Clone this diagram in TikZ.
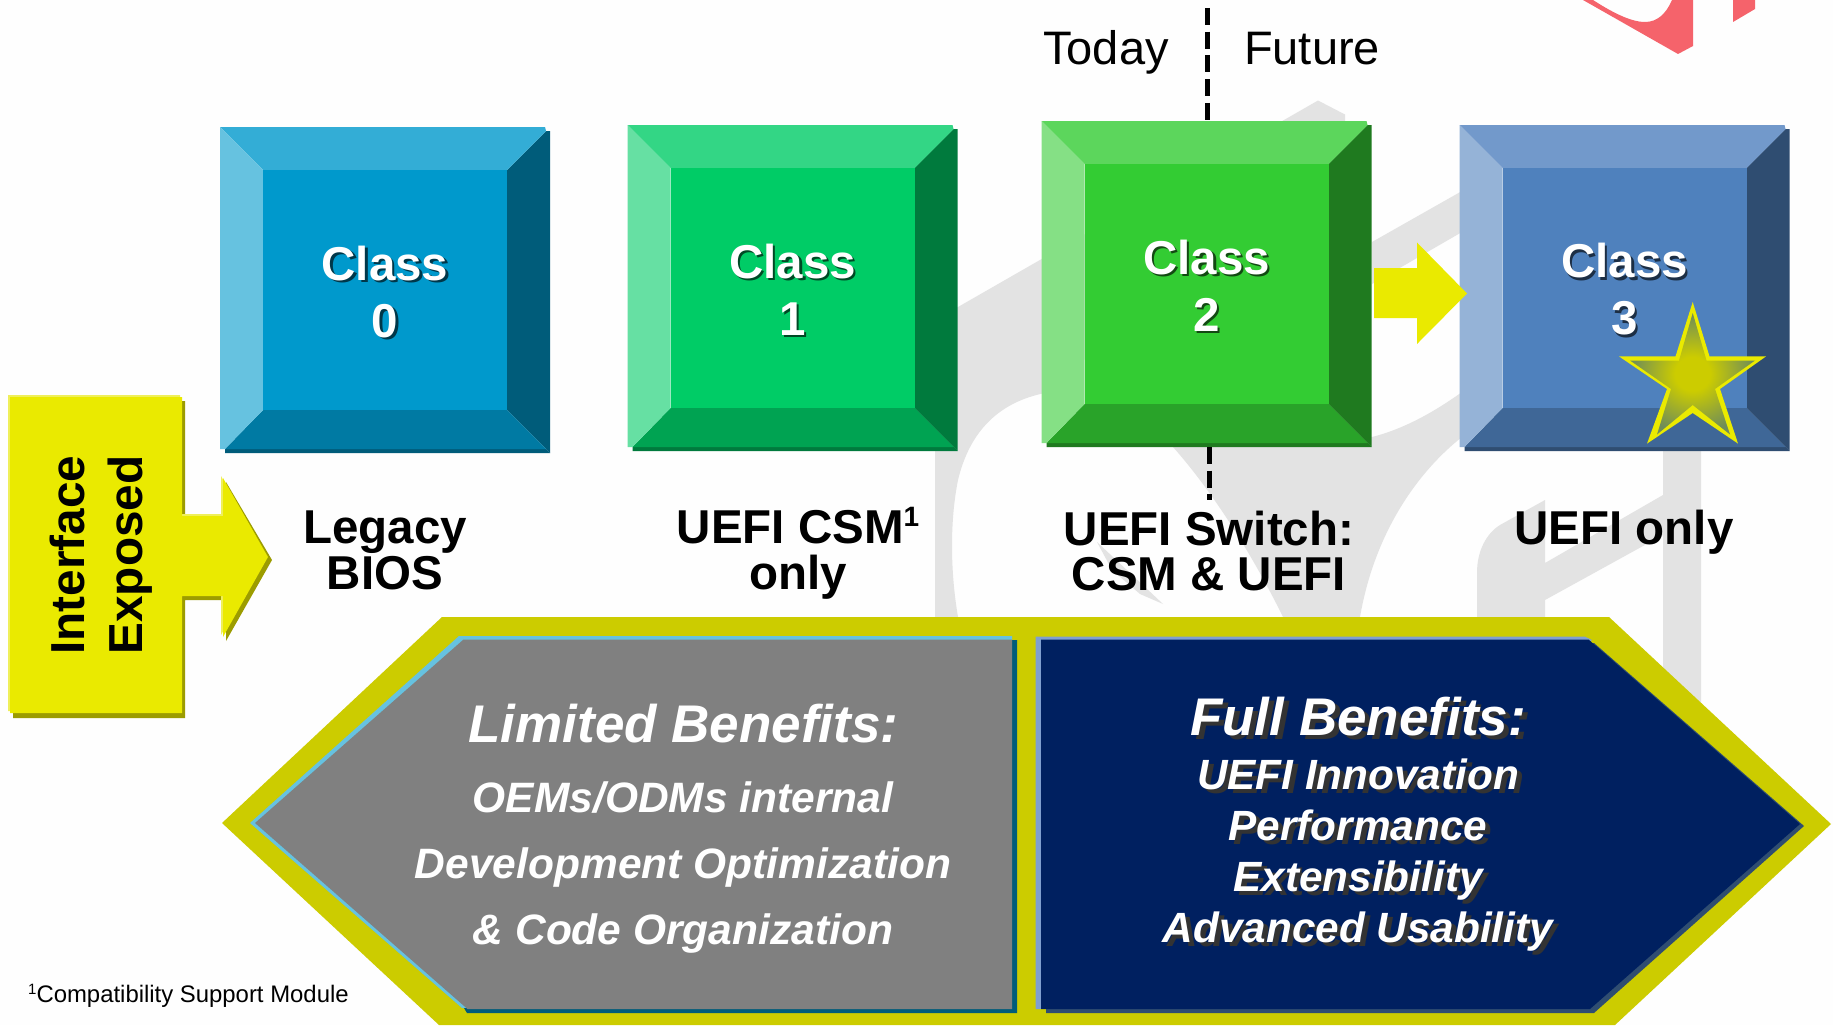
\documentclass[tikz,border=0pt]{standalone}
\usepackage{fontspec}
\setmainfont{Liberation Sans}
\definecolor{paper}{HTML}{FEFEFE}
\definecolor{wmgray}{HTML}{E3E3E3}
\definecolor{wmpink}{HTML}{F5636B}
\definecolor{yel}{HTML}{EAEA00}
\definecolor{yelLight}{HTML}{EFEF5A}
\definecolor{yelDark}{HTML}{9C9C00}
\definecolor{olive}{HTML}{CCCC00}
\definecolor{edgeCyan}{HTML}{66C2E0}
\definecolor{edgeTeal}{HTML}{005C7A}
\definecolor{panelGray}{HTML}{808080}
\definecolor{navy}{HTML}{002060}
\definecolor{navyEdge}{HTML}{809FCF}
\definecolor{navyShade}{HTML}{2F4D71}
\definecolor{textShade}{HTML}{333333}
\definecolor{starc}{HTML}{CCCC00}
\definecolor{staro}{HTML}{6E8C5A}
\definecolor{aF}{HTML}{0099CC}\definecolor{aT}{HTML}{33ADD6}\definecolor{aL}{HTML}{66C2E0}\definecolor{aR}{HTML}{005C7A}\definecolor{aB}{HTML}{007AA3}
\definecolor{bF}{HTML}{00CC66}\definecolor{bT}{HTML}{33D685}\definecolor{bL}{HTML}{66E0A3}\definecolor{bR}{HTML}{007A3D}\definecolor{bB}{HTML}{00A352}
\definecolor{cF}{HTML}{33CC33}\definecolor{cT}{HTML}{5CD65C}\definecolor{cL}{HTML}{85E085}\definecolor{cR}{HTML}{1F7A1F}\definecolor{cB}{HTML}{29A329}
\definecolor{dF}{HTML}{4F81BD}\definecolor{dT}{HTML}{7299CB}\definecolor{dL}{HTML}{95B3D7}\definecolor{dR}{HTML}{2F4D71}\definecolor{dB}{HTML}{3F6797}
\pgfdeclareradialshading{starglow}{\pgfpoint{0bp}{0bp}}{color(0bp)=(starc); color(7bp)=(starc); color(25bp)=(staro); color(50bp)=(staro)}
\newcommand\fsz[2]{\fontsize{#1}{#2}\selectfont}
% text with a small drop shadow: colour, dx, dy, text
\newcommand\shd[4]{\leavevmode\rlap{\kern#2pt\raisebox{-#3pt}{\color{#1}#4}}#4}
% bevelled class box: name, left, top, palette, shadow colour, digit
\newcommand\bevelbox[6]{%
  \begin{scope}[shift={(#2,#3)}]
    \fill[#4R] (287,43) -- (326,4) -- (330,4) -- (330,326) -- (287,283) -- cycle;
    \fill[#4R] (5,322) -- (326,322) -- (330,326) -- (5,326) -- cycle;
    \fill[#4B] (43,283) -- (287,283) -- (326,322) -- (5,322) -- cycle;
    \fill[#4T] (0,0) -- (325,0) -- (326,4) -- (287,43) -- (43,43) -- cycle;
    \fill[#4L] (0,0) -- (43,43) -- (43,283) -- (5,322) -- (0,322) -- cycle;
    \node[classface, fill=#4F] (#1) at (165,163) {\rule{0pt}{40pt}\shd{#5}{2.5}{2.5}{Class}\\\shd{#5}{2.5}{2.5}{#6}};
    \coordinate (#1-n) at (165,0);
    \coordinate (#1-s) at (165,326);
  \end{scope}}
\tikzset{
  classface/.style={minimum width=244pt, minimum height=240pt, inner sep=0pt, align=center, text=white, font=\fsz{47.5}{57}\bfseries},
  captiontext/.style={inner sep=0pt, align=center, anchor=base, text=black, font=\fsz{47.5}{45.5}\bfseries},
  plaintext/.style={inner sep=0pt, anchor=base, text=black, font=\fsz{47}{47}},
  footnotetext/.style={inner sep=0pt, anchor=base west, text=black, font=\fsz{23.9}{24}},
  headline/.style={inner sep=0pt, align=center, anchor=base, text=white, font=\fsz{53}{53}\bfseries\itshape},
  graybody/.style={inner sep=0pt, align=center, anchor=base, text=white, font=\fsz{42.5}{66}\bfseries\itshape},
  navybody/.style={inner sep=0pt, align=center, anchor=base, text=white, font=\fsz{42.3}{51}\bfseries\itshape},
  divider/.style={line width=5pt, black, dash pattern=on 17pt off 6.7pt},
}
\begin{document}
\begin{tikzpicture}[x=1pt,y=-1pt]
\useasboundingbox (0,0) rectangle (1833,1025);
\fill[paper] (0,0) rectangle (1833,1025);
% faint watermark
\fill[wmgray] (935,617) -- (935,320) -- (958,307) -- (1318,100.5) -- (1345,114.5) -- (1345,140) -- (1045,393)
  .. controls (1000,402) and (970,430) .. (958,480)
  .. controls (950,520) and (950,570) .. (958,617) -- cycle;
\fill[wmgray] (1372,242) -- (1462,191) -- (1462,232) -- (1417,258) -- (1372,284) -- cycle;
\fill[wmgray] (1150,420) -- (1372,437) .. controls (1400,430) and (1430,415) .. (1462,392) -- (1462,437)
  .. controls (1420,470) and (1375,530) .. (1360,617) -- (1283,617)
  .. controls (1260,570) and (1220,500) .. (1173,447) -- cycle;
\fill[wmgray] (1097,542) -- (1163,604) -- (1140,594) -- (1112,570) -- cycle;
\fill[wmgray] (1477,617) -- (1477,573) .. controls (1477,550) and (1487,533) .. (1500,525)
  -- (1545,500) -- (1545,563) -- (1663,495) -- (1663,440) -- (1701,440) -- (1701,720) -- (1663,720)
  -- (1663,535) -- (1545,600) -- (1545,617) -- cycle;
\fill[wmpink] (1583,0) -- (1678,54) -- (1693,46) -- (1693,0) -- (1672,0)
  .. controls (1666,14) and (1657,22) .. (1645,22) .. controls (1630,22) and (1610,11) .. (1593,0) -- cycle;
\fill[wmpink] (1733,0) -- (1755,0) -- (1755,9) -- (1733,22) -- cycle;
% bottom arrows
\fill[olive] (442,617) -- (1609,617) -- (1831,824) -- (1615,1025) -- (439,1025) -- (222,823) -- cycle;
\fill[edgeCyan] (459,636) -- (1012,636) -- (1012,1008) -- (462,1008) -- (250,823) -- cycle;
\fill[edgeTeal] (1012,640) -- (1017,640) -- (1017,1013) -- (467,1013) -- (464,1008) -- (1012,1008) -- cycle;
\fill[panelGray] (463.5,639.5) -- (1012,639.5) -- (1012,1009) -- (467.5,1009) -- (255,823) -- cycle;
\fill[navyShade] (1594,643) -- (1804,826) -- (1594,1013) -- (1046,1013) -- (1046,643) -- cycle;
\fill[navyEdge] (1035.5,636.5) -- (1584.5,636.5) -- (1592,640) -- (1041,1009) -- (1035.5,1009) -- cycle;
\fill[navy] (1041,639.5) -- (1588.5,639.5) -- (1800,824) -- (1590,1009) -- (1041,1009) -- cycle;
% today / future divider
\coordinate (divtop) at (1207.5,8);
\coordinate (divbot) at (1209.5,500);
% class boxes
\bevelbox{c0}{220}{127}{a}{aR!60!black}{0}
\bevelbox{c1}{627.5}{125}{b}{bR!60!black}{1}
\bevelbox{c2}{1041.5}{121}{c}{cR!60!black}{2}
\bevelbox{c3}{1459.5}{125}{d}{dR!60!black}{3}
\draw[divider] (divtop) -- (divtop |- c2-n);
\draw[divider] (divbot |- c2-s) -- (divbot);
% arrow class 2 to class 3
\fill[yel] (1374,268) -- (1417,268) -- (1417,242.5) -- (1467,293.5) -- (1417,344) -- (1417,318) -- (1374,318) -- cycle;
% star
\fill[yel] (1692.7,302) -- (1709.5,356.4) -- (1766,356.4) -- (1720,389) -- (1738,443.6) -- (1692.7,413) -- (1647,443.6) -- (1667,389) -- (1619,356.4) -- (1675.5,356.4) -- cycle;
\shade[shading=starglow] (1692.7,313) -- (1706.5,360.5) -- (1755,360.5) -- (1715,389) -- (1730,434.5) -- (1692.7,405) -- (1657,434.5) -- (1671,389) -- (1630,360.5) -- (1679,360.5) -- cycle;
% interface arrow
\fill[yelDark] (13,401) -- (185,401) -- (185,520) -- (226,520) -- (226,482) -- (272,560) -- (226,641) -- (226,600) -- (185,600) -- (185,718) -- (13,718) -- cycle;
\fill[yelLight] (8,395) -- (180,395) -- (180,514) -- (221,514) -- (221,476) -- (266,556) -- (221,635) -- (221,595) -- (180,595) -- (180,711) -- (8,711) -- cycle;
\fill[yel] (10,397) -- (182,397) -- (182,516) -- (223,516) -- (223,478) -- (268,557) -- (223,637) -- (223,596) -- (182,596) -- (182,713) -- (10,713) -- cycle;
\node[rotate=90, inner sep=0pt, align=center, text=black, font=\fsz{47.7}{58}\bfseries] (iface) at (101,555) {Interface\\Exposed};
% captions
\node[captiontext] (legacy) at (385,589) {Legacy\\BIOS};
\node[captiontext] (csm) at (798,589) {UEFI CSM\raisebox{17pt}{\fsz{28}{28}1}\\only};
\node[captiontext] (switch) at (1209,590.5) {UEFI Switch:\\CSM \& UEFI};
\node[captiontext] (only) at (1624,544) {UEFI only};
\node[plaintext] (today) at (1106,64) {Today};
\node[plaintext] (future) at (1312,64) {Future};
\node[footnotetext] (fnote) at (28,1002.7) {\raisebox{8pt}{\fsz{15}{15}1}Compatibility Support Module};
% panel text
\node[headline] (limited) at (683.5,742.7) {Limited Benefits:};
\node[graybody] (limitedbody) at (683,944) {OEMs/ODMs internal\\Development Optimization\\\& Code Organization};
\node[headline] (full) at (1358,735) {\shd{textShade}{5}{4}{Full Benefits:}};
\node[navybody] (fullbody) at (1358,942.3) {\shd{textShade}{5}{4}{UEFI Innovation}\\\shd{textShade}{5}{4}{Performance}\\\shd{textShade}{5}{4}{Extensibility}\\\shd{textShade}{5}{4}{Advanced Usability}};
\end{tikzpicture}
\end{document}
